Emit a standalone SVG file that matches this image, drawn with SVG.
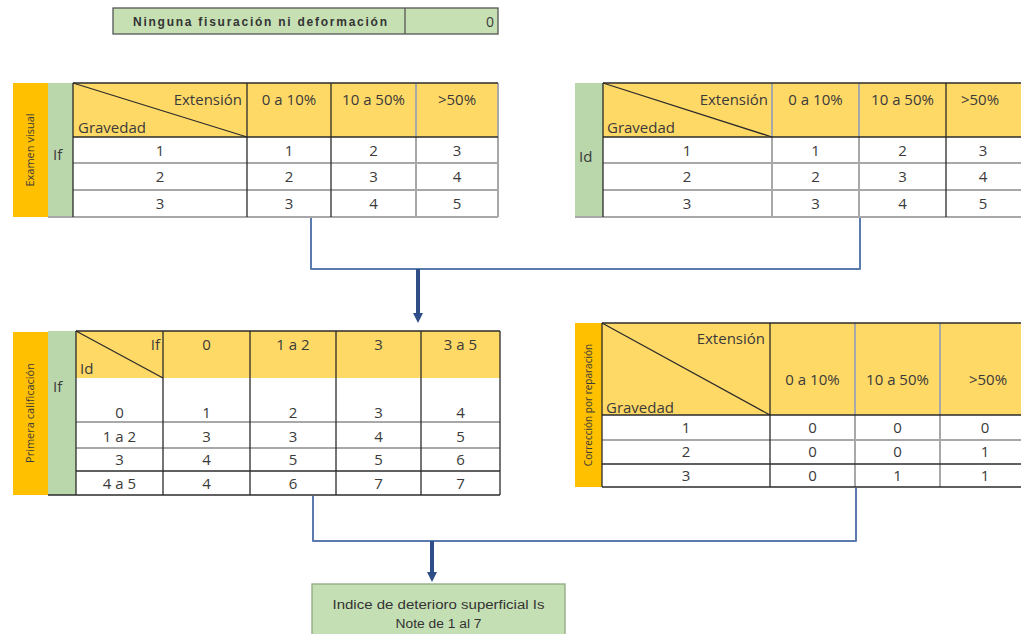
<svg xmlns="http://www.w3.org/2000/svg" width="1021" height="634" viewBox="0 0 1021 634">
<style>
.hdr{fill:#FFD966}
.cell{fill:#FFFFFF}
.lab{fill:#FFC000}
.grn{fill:#B9D7AA}
.dk{stroke:#2b2b2b;stroke-width:1.3;fill:none}
.gy{stroke:#A8A8A8;stroke-width:2;fill:none}
.t{font-family:"Open Sans","Liberation Sans",sans-serif;font-size:15px;fill:#3a3a3a}
.c{text-anchor:middle}
.e{text-anchor:end}
.v{font-family:"Open Sans","Liberation Sans",sans-serif;font-size:11px;fill:#3a3a3a;text-anchor:middle}
.conn{stroke:#5B7BAE;stroke-width:2;fill:none;stroke-linejoin:round}
.arr{stroke:#2F4E88;stroke-width:4;fill:none}
</style>
<defs>
<marker id="ah" markerUnits="userSpaceOnUse" markerWidth="10" markerHeight="10" refX="2" refY="5" viewBox="0 0 10 10" orient="auto">
<path d="M0,0 L10,5 L0,10 Z" fill="#2F4E88"/>
</marker>
</defs>
<rect width="1021" height="634" fill="#FFFFFF"/>

<g id="top-box">
<rect x="113" y="8" width="385" height="26" fill="#C6E0B4" stroke="#555" stroke-width="1.3"/>
<line x1="405" y1="8" x2="405" y2="34" stroke="#555" stroke-width="1.3"/>
<text x="133" y="26" font-family="'Liberation Sans',sans-serif" font-size="12" font-weight="bold" fill="#333" textLength="254" lengthAdjust="spacing">Ninguna fisuración ni deformación</text>
<text class="t e" x="494" y="27" style="font-size:14px">0</text>
</g>

<g id="table-examen-visual">
<rect class="lab" x="13" y="83" width="35" height="134"/>
<rect class="grn" x="48" y="83" width="25" height="134"/>
<text class="v" transform="translate(34,150) rotate(-90)">Examen visual</text>
<text class="t" x="53" y="160">If</text>
<rect class="hdr" x="73" y="83" width="425" height="54"/>
<rect class="cell" x="73" y="137" width="425" height="80"/>
<line class="gy" x1="73" y1="163" x2="498" y2="163"/>
<line class="gy" x1="73" y1="190" x2="498" y2="190"/>
<line class="gy" x1="48" y1="217" x2="498" y2="217"/>
<line class="gy" x1="416" y1="83" x2="416" y2="217"/>
<line class="gy" x1="498" y1="83" x2="498" y2="217"/>
<line class="dk" x1="73" y1="83" x2="498" y2="83"/>
<line class="dk" x1="73" y1="137" x2="498" y2="137"/>
<line class="dk" x1="73" y1="83" x2="73" y2="217"/>
<line class="dk" x1="247" y1="83" x2="247" y2="217"/>
<line class="dk" x1="331" y1="83" x2="331" y2="217"/>
<line class="dk" x1="73" y1="83" x2="247" y2="137"/>
<text class="t e" x="242" y="105">Extensión</text>
<text class="t" x="78" y="133">Gravedad</text>
<text class="t c" x="289" y="105">0 a 10%</text>
<text class="t c" x="373.5" y="105">10 a 50%</text>
<text class="t c" x="457" y="105">&gt;50%</text>
<text class="t c" x="160" y="156">1</text><text class="t c" x="289" y="156">1</text><text class="t c" x="373.5" y="156">2</text><text class="t c" x="457" y="156">3</text>
<text class="t c" x="160" y="182">2</text><text class="t c" x="289" y="182">2</text><text class="t c" x="373.5" y="182">3</text><text class="t c" x="457" y="182">4</text>
<text class="t c" x="160" y="209">3</text><text class="t c" x="289" y="209">3</text><text class="t c" x="373.5" y="209">4</text><text class="t c" x="457" y="209">5</text>
</g>

<g id="table-id">
<rect class="grn" x="575" y="83" width="28" height="134"/>
<text class="t" x="579" y="162">Id</text>
<rect class="hdr" x="603" y="83" width="430" height="54"/>
<rect class="cell" x="603" y="137" width="430" height="80"/>
<line class="gy" x1="603" y1="163" x2="1033" y2="163"/>
<line class="gy" x1="603" y1="190" x2="1033" y2="190"/>
<line class="gy" x1="575" y1="217" x2="1033" y2="217"/>
<line class="gy" x1="772" y1="83" x2="772" y2="217"/>
<line class="gy" x1="859" y1="83" x2="859" y2="217"/>
<line class="dk" x1="603" y1="83" x2="1033" y2="83"/>
<line class="dk" x1="603" y1="137" x2="1033" y2="137"/>
<line class="dk" x1="603" y1="83" x2="603" y2="217"/>
<line class="dk" x1="946" y1="83" x2="946" y2="217"/>
<line class="dk" x1="603" y1="83" x2="772" y2="137"/>
<text class="t e" x="768" y="105">Extensión</text>
<text class="t" x="607" y="133">Gravedad</text>
<text class="t c" x="815.5" y="105">0 a 10%</text>
<text class="t c" x="902.5" y="105">10 a 50%</text>
<text class="t c" x="980" y="105">&gt;50%</text>
<text class="t c" x="687" y="156">1</text><text class="t c" x="815.5" y="156">1</text><text class="t c" x="902.5" y="156">2</text><text class="t c" x="983" y="156">3</text>
<text class="t c" x="687" y="182">2</text><text class="t c" x="815.5" y="182">2</text><text class="t c" x="902.5" y="182">3</text><text class="t c" x="983" y="182">4</text>
<text class="t c" x="687" y="209">3</text><text class="t c" x="815.5" y="209">3</text><text class="t c" x="902.5" y="209">4</text><text class="t c" x="983" y="209">5</text>
</g>

<g id="table-primera-calificacion">
<rect class="lab" x="13" y="332" width="35" height="163"/>
<rect class="grn" x="48" y="331" width="28" height="164"/>
<text class="v" transform="translate(34,413) rotate(-90)">Primera calificación</text>
<text class="t" x="53" y="392">If</text>
<rect class="hdr" x="76" y="331" width="424" height="47"/>
<rect class="cell" x="76" y="378" width="424" height="117"/>
<line class="gy" x1="76" y1="422" x2="500" y2="422"/>
<line class="gy" x1="76" y1="448" x2="500" y2="448"/>
<line class="dk" x1="76" y1="471" x2="500" y2="471"/>
<line class="dk" x1="48" y1="495" x2="500" y2="495"/>
<line class="dk" x1="76" y1="331" x2="500" y2="331"/>
<line class="dk" x1="76" y1="331" x2="76" y2="495"/>
<line class="dk" x1="163" y1="331" x2="163" y2="495"/>
<line class="dk" x1="250" y1="331" x2="250" y2="495"/>
<line class="dk" x1="336" y1="331" x2="336" y2="495"/>
<line class="dk" x1="421" y1="331" x2="421" y2="495"/>
<line class="dk" x1="500" y1="331" x2="500" y2="495"/>
<line class="dk" x1="76" y1="331" x2="163" y2="378"/>
<text class="t e" x="160" y="350">If</text>
<text class="t" x="80" y="374">Id</text>
<text class="t c" x="206.5" y="350">0</text>
<text class="t c" x="293" y="350">1 a 2</text>
<text class="t c" x="378.5" y="350">3</text>
<text class="t c" x="460.5" y="350">3 a 5</text>
<text class="t c" x="119.5" y="418">0</text><text class="t c" x="206.5" y="418">1</text><text class="t c" x="293" y="418">2</text><text class="t c" x="378.5" y="418">3</text><text class="t c" x="460.5" y="418">4</text>
<text class="t c" x="119.5" y="442">1 a 2</text><text class="t c" x="206.5" y="442">3</text><text class="t c" x="293" y="442">3</text><text class="t c" x="378.5" y="442">4</text><text class="t c" x="460.5" y="442">5</text>
<text class="t c" x="119.5" y="465">3</text><text class="t c" x="206.5" y="465">4</text><text class="t c" x="293" y="465">5</text><text class="t c" x="378.5" y="465">5</text><text class="t c" x="460.5" y="465">6</text>
<text class="t c" x="119.5" y="489">4 a 5</text><text class="t c" x="206.5" y="489">4</text><text class="t c" x="293" y="489">6</text><text class="t c" x="378.5" y="489">7</text><text class="t c" x="460.5" y="489">7</text>
</g>

<g id="table-correccion">
<rect class="lab" x="575" y="323" width="27" height="164"/>
<text class="v" style="font-size:10px" transform="translate(592,405) rotate(-90)">Corrección por reparación</text>
<rect class="hdr" x="602" y="323" width="431" height="92"/>
<rect class="cell" x="602" y="415" width="431" height="72"/>
<line class="gy" x1="855" y1="323" x2="855" y2="487"/>
<line class="gy" x1="940" y1="323" x2="940" y2="487"/>
<line class="gy" x1="602" y1="440" x2="1033" y2="440"/>
<line class="dk" x1="602" y1="464" x2="1033" y2="464"/>
<line class="dk" x1="602" y1="487" x2="1033" y2="487"/>
<line class="dk" x1="602" y1="415" x2="1033" y2="415"/>
<line class="dk" x1="602" y1="323" x2="1033" y2="323"/>
<line class="dk" x1="602" y1="323" x2="602" y2="487"/>
<line class="dk" x1="770" y1="323" x2="770" y2="487"/>
<line class="dk" x1="602" y1="323" x2="770" y2="415"/>
<text class="t e" x="765" y="344">Extensión</text>
<text class="t" x="606" y="413">Gravedad</text>
<text class="t c" x="812.5" y="385">0 a 10%</text>
<text class="t c" x="897.5" y="385">10 a 50%</text>
<text class="t c" x="988" y="385">&gt;50%</text>
<text class="t c" x="686" y="433">1</text><text class="t c" x="812.5" y="433">0</text><text class="t c" x="897.5" y="433">0</text><text class="t c" x="985" y="433">0</text>
<text class="t c" x="686" y="457">2</text><text class="t c" x="812.5" y="457">0</text><text class="t c" x="897.5" y="457">0</text><text class="t c" x="985" y="457">1</text>
<text class="t c" x="686" y="481">3</text><text class="t c" x="812.5" y="481">0</text><text class="t c" x="897.5" y="481">1</text><text class="t c" x="985" y="481">1</text>
</g>

<g id="result-box">
<rect x="312" y="584" width="253" height="60" fill="#C5DFB4" stroke="#8FA882" stroke-width="1.3"/>
<text x="438.5" y="609" text-anchor="middle" font-family="'Liberation Sans',sans-serif" font-size="12.5" fill="#333" textLength="212" lengthAdjust="spacingAndGlyphs">Indice de deterioro superficial Is</text>
<text x="438.5" y="628" text-anchor="middle" font-family="'Liberation Sans',sans-serif" font-size="12.5" fill="#333" textLength="86" lengthAdjust="spacingAndGlyphs">Note de 1 al 7</text>
</g>

<g id="connectors">
<path class="conn" d="M311,218 V269 H860 V218"/>
<line class="arr" x1="418" y1="269" x2="418" y2="315" marker-end="url(#ah)"/>
<path class="conn" d="M313,496 V541 H856 V488"/>
<line class="arr" x1="432" y1="541" x2="432" y2="574" marker-end="url(#ah)"/>
</g>
</svg>
